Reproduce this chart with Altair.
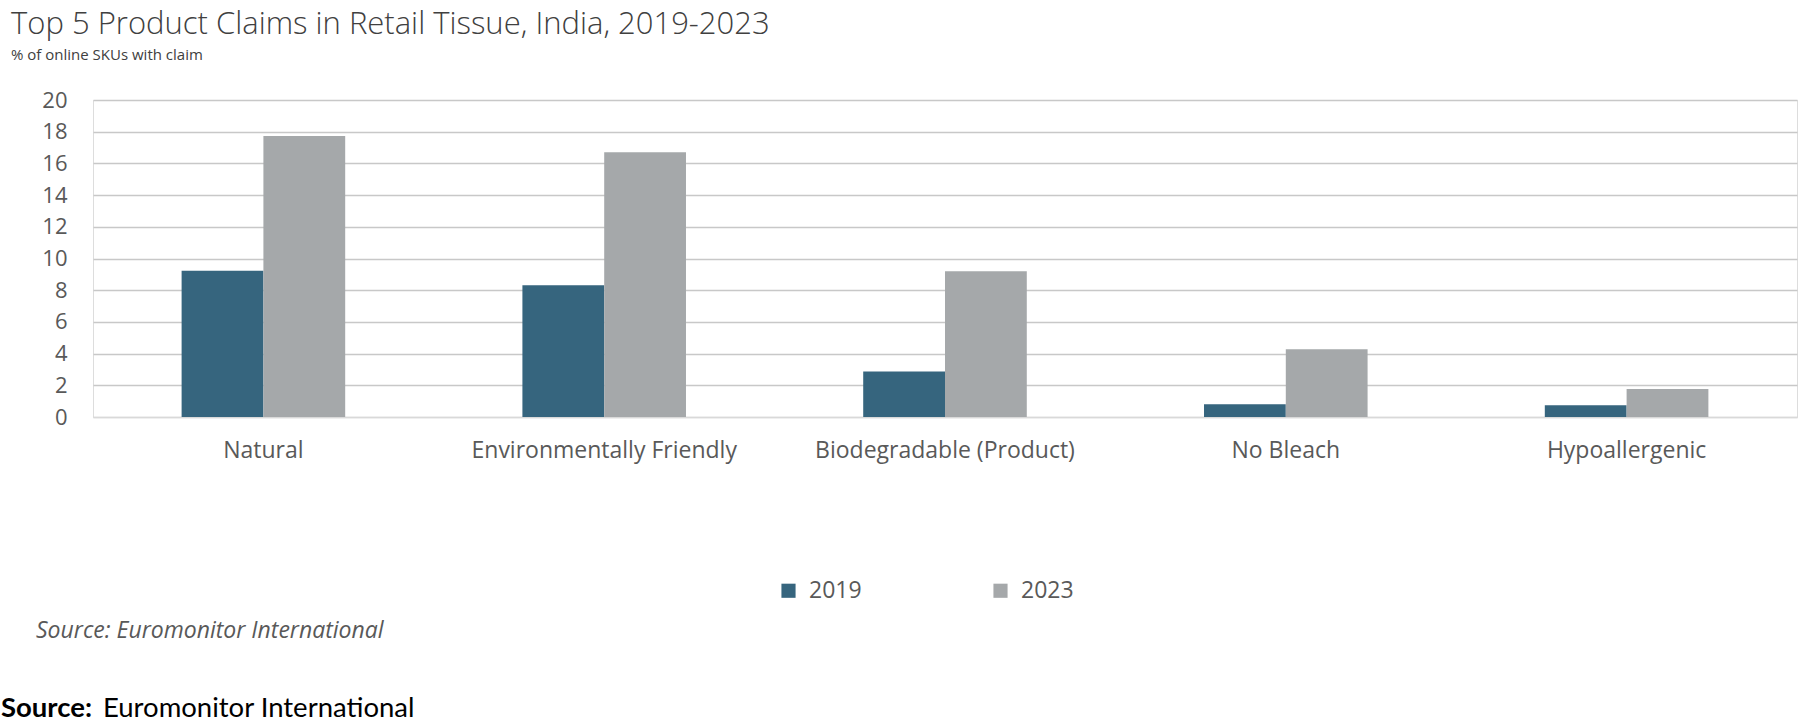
import altair as alt
import pandas as pd

categories = ["Natural", "Environmentally Friendly", "Biodegradable (Product)", "No Bleach", "Hypoallergenic"]
years = ["2019", "2023"]
values_2019 = [9.22, 8.32, 2.87, 0.80, 0.74]
values_2023 = [17.73, 16.70, 9.20, 4.28, 1.76]
y_ticks = [0, 2, 4, 6, 8, 10, 12, 14, 16, 18, 20]

title_text = "Top 5 Product Claims in Retail Tissue, India, 2019-2023"
subtitle_text = "% of online SKUs with claim"
note_text = "Source: Euromonitor International"
footer_bold = "Source:"
footer_text = "Euromonitor International"

rows = []
for c, v1, v2 in zip(categories, values_2019, values_2023):
    rows.append({"claim": c, "year": "2019", "value": v1})
    rows.append({"claim": c, "year": "2023", "value": v2})
df = pd.DataFrame(rows)

FONT = "Open Sans"

bars = alt.Chart(df).mark_bar().encode(
    x=alt.X(
        "claim:N", sort=categories,
        scale=alt.Scale(paddingInner=0.52, paddingOuter=0.26),
        axis=alt.Axis(title=None, labelAngle=0, labelFontSize=23, labelFont=FONT,
                      labelColor="#595959", ticks=False, domainColor="#D9D9D9",
                      domainWidth=1.5, labelPadding=22, grid=False, labelLimit=0),
    ),
    xOffset=alt.XOffset("year:N", sort=years, scale=alt.Scale(paddingInner=0, paddingOuter=0)),
    y=alt.Y(
        "value:Q", scale=alt.Scale(domain=[0, 20], nice=False),
        axis=alt.Axis(values=y_ticks, title=None, grid=True,
                      gridColor={"condition": {"test": "datum.value === 0", "value": "#D9D9D9"}, "value": "#C8C8C8"},
                      gridWidth=1.5, domain=False, ticks=False, labelFontSize=22, labelFont=FONT,
                      labelPadding=26, labelColor="#595959"),
    ),
    color=alt.Color(
        "year:N", scale=alt.Scale(domain=years, range=["#36657E", "#A5A8AA"]),
        legend=alt.Legend(title=None, orient="none", legendX=684, legendY=479, direction="horizontal",
                          symbolType="square", symbolSize=200, symbolStrokeWidth=0,
                          labelFontSize=23, labelFont=FONT, labelColor="#595959",
                          columnPadding=127, labelOffset=9, padding=0),
    ),
)

def text_layer(txt, x, y, size, font=FONT, color="#404040", style="normal", weight="normal"):
    return alt.Chart(pd.DataFrame({"t": [txt]})).mark_text(
        align="left", baseline="alphabetic", font=font, fontSize=size,
        fontStyle=style, fontWeight=weight, color=color,
    ).encode(x=alt.value(x), y=alt.value(y), text="t:N")

title = text_layer(title_text, -82, -66.5, 31, weight=300)
subtitle = text_layer(subtitle_text, -82, -40, 15)
note = text_layer(note_text, -57, 538, 23, color="#595959", style="italic")
foot1 = text_layer(footer_bold, -92, 617, 27.5, font="Lato", color="#000000", weight="bold")
foot2 = text_layer(footer_text, 10, 617, 27.5, font="Lato", color="#000000")

chart = alt.layer(bars, title, subtitle, note, foot1, foot2).properties(
    width=1704, height=317,
    autosize=alt.AutoSizeParams(type="none"),
    padding={"left": 93, "top": 100, "right": 3, "bottom": 307},
).configure_view(stroke=None).configure(background="white")

chart.save("out.html", embed_options={"renderer": "svg", "actions": False})
